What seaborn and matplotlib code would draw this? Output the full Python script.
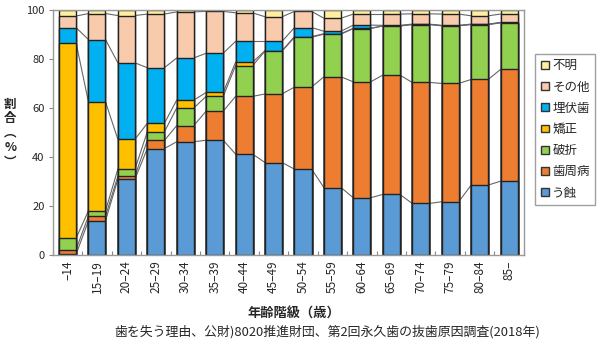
import numpy as np
import pandas as pd
import seaborn as sns
import matplotlib.pyplot as plt
from matplotlib.patches import Patch

# age groups and share (%) of each reason for tooth loss
ages = ["–14", "15–19", "20–24", "25–29", "30–34", "35–39", "40–44", "45–49",
        "50–54", "55–59", "60–64", "65–69", "70–74", "75–79", "80–84", "85–"]

caries   = [0.3, 14.0, 31.0, 43.5, 46.3, 46.9, 41.2, 37.8, 35.1, 27.6, 23.4, 24.8, 21.1, 21.8, 28.6, 30.2]
perio    = [2.0, 1.9, 1.2, 3.3, 6.6, 11.9, 23.6, 28.0, 33.5, 45.2, 47.3, 48.7, 49.4, 48.3, 43.1, 45.6]
fracture = [4.6, 2.2, 2.9, 3.5, 7.2, 6.0, 12.6, 17.5, 20.3, 17.4, 21.8, 20.0, 23.6, 23.5, 22.4, 19.0]
ortho    = [79.8, 44.5, 12.2, 3.5, 3.2, 1.6, 1.4, 0.2, 0.3, 0.2, 0.1, 0.1, 0.1, 0.1, 0.1, 0.1]
impacted = [6.2, 25.4, 31.2, 22.7, 17.2, 16.0, 8.5, 3.8, 3.7, 1.0, 1.3, 0.2, 0.1, 0.1, 0.1, 0.1]
other    = [4.7, 10.6, 19.3, 21.9, 18.8, 17.1, 11.6, 10.0, 6.6, 5.3, 4.5, 4.6, 4.2, 4.6, 3.4, 3.4]
unknown  = [2.4, 1.4, 2.2, 1.6, 0.7, 0.5, 1.1, 2.7, 0.5, 3.4, 1.6, 1.6, 1.5, 1.6, 2.3, 1.6]

names = ["う蝕", "歯周病", "破折", "矯正", "埋伏歯", "その他", "不明"]
colors = ["#5B9BD5", "#ED7D31", "#92D050", "#FFC000", "#00B0F0", "#F8CBAD", "#FFF0A0"]

df = pd.DataFrame(dict(zip(names, [caries, perio, fracture, ortho, impacted, other, unknown])), index=ages)
cum = df.cumsum(axis=1)

sns.set_theme(style="white")
plt.rcParams['font.family'] = ['Noto Sans CJK JP', 'DejaVu Sans']

fig, ax = plt.subplots(figsize=(6, 3.5), dpi=100)
fig.subplots_adjust(left=0.088, right=0.873, top=0.971, bottom=0.271)

w = 0.58
# stack by overlaying cumulative bars, tallest first
for name, col in reversed(list(zip(names, colors))):
    sns.barplot(x=ages, y=cum[name].values, color=col, saturation=1, width=w,
                edgecolor="#222222", linewidth=1, ax=ax, zorder=2)

# series lines between bars
for name in names[:-1]:
    vals = cum[name].values
    for i in range(len(ages) - 1):
        ax.plot([i + w / 2, i + 1 - w / 2], [vals[i], vals[i + 1]],
                color="#666666", lw=0.8, zorder=1)

ax.set_xlim(-0.5, len(ages) - 0.5)
ax.set_ylim(0, 100)
ax.set_yticks(range(0, 101, 20))
ax.tick_params(axis='y', left=True, length=3, width=0.8, color="#888888", labelsize=8, pad=3)
ax.tick_params(axis='x', which='major', length=0, labelsize=8.5, rotation=90, pad=4)
ax.set_xticks(np.arange(-0.5, len(ages), 1), minor=True)
ax.tick_params(axis='x', which='minor', bottom=True, direction='in', length=3, width=0.8, color="#888888")
ax.set_xlabel("")
ax.set_ylabel("")
for s in ax.spines.values():
    s.set_color("#999999")
    s.set_linewidth(1)

fig.text(0.017, 0.62, "割\n合\n︵\n%\n︶", ha="center", va="center", fontsize=9,
         fontweight="bold", linespacing=1.15)
fig.text(0.49, 0.105, "年齢階級（歳）", ha="center", va="center", fontsize=9.5, fontweight="bold")
fig.text(0.545, 0.052, "歯を失う理由、公財)8020推進財団、第2回永久歯の抜歯原因調査(2018年)",
         ha="center", va="center", fontsize=9.3)

handles = [Patch(facecolor=c, edgecolor="#333333", linewidth=1) for c in colors][::-1]
leg = fig.legend(handles, names[::-1], loc="upper left", bbox_to_anchor=(0.882, 0.865),
                 fontsize=9, handlelength=0.6, handleheight=0.6, handletextpad=0.3,
                 labelspacing=0.66, borderpad=0.45, frameon=True, fancybox=False)
leg.get_frame().set_edgecolor("#888888")
leg.get_frame().set_linewidth(1)

fig.savefig("out.png", dpi=100)
